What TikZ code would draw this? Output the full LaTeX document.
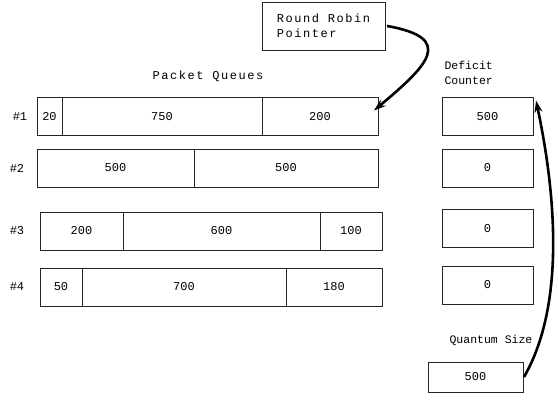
\documentclass[tikz,border=0pt]{standalone}
\usepackage{fontspec}
\setmonofont{Liberation Mono}
\usetikzlibrary{positioning,arrows.meta}

\begin{document}
\begin{tikzpicture}[x=1pt, y=1pt, >={Stealth[length=12pt,width=8pt]},
  font=\ttfamily\fontsize{12}{14}\selectfont,
  cell/.style={draw=black!85, line width=0.6pt, minimum height=38, inner sep=0pt, outer sep=0pt},
  tag/.style={font=\ttfamily\fontsize{11.5}{15}\selectfont},
  wide/.style={font=\ttfamily\fontsize{12}{15}\selectfont\addfontfeature{LetterSpace=13}},
  ptr/.style={->, line width=2.6pt}]
  \useasboundingbox (0,0) rectangle (558,407);
  % round robin pointer
  \node[cell, wide, minimum width=123, minimum height=48, align=left] (rr) at (323.5,381) {Round Robin\\Pointer};
  \node[wide] (plab) at (208,331) {Packet Queues};
  \node[tag, align=left, anchor=west] (dlab) at (441,334) {Deficit\\Counter};
  % queue 1
  \node (n1) at (20,290.5) {\#1};
  \node[cell, minimum width=25, anchor=west] (q1a) at (37,290.5) {20};
  \node[cell, minimum width=200, right=0pt of q1a] (q1b) {750};
  \node[cell, minimum width=116, right=0pt of q1b] (q1c) {200};
  % queue 2
  \node (n2) at (17,239) {\#2};
  \node[cell, minimum width=157, anchor=west] (q2a) at (37,239) {500};
  \node[cell, minimum width=184, right=0pt of q2a] (q2b) {500};
  % queue 3
  \node (n3) at (17,176) {\#3};
  \node[cell, minimum width=83, anchor=west] (q3a) at (40,176) {200};
  \node[cell, minimum width=197, right=0pt of q3a] (q3b) {600};
  \node[cell, minimum width=62, right=0pt of q3b] (q3c) {100};
  % queue 4
  \node (n4) at (17,120) {\#4};
  \node[cell, minimum width=42, anchor=west] (q4a) at (40,120) {50};
  \node[cell, minimum width=204, right=0pt of q4a] (q4b) {700};
  \node[cell, minimum width=96, right=0pt of q4b] (q4c) {180};
  % deficit counters
  \node[cell, minimum width=91] (d1) at (487.5,290.5) {500};
  \node[cell, minimum width=91] (d2) at (487.5,239) {0};
  \node[cell, minimum width=91] (d3) at (487.5,178.5) {0};
  \node[cell, minimum width=91] (d4) at (487.5,122) {0};
  % quantum
  \node[tag] (qlab) at (491,67) {Quantum Size};
  \node[cell, minimum width=95, minimum height=30] (qs) at (475.5,30) {500};
  % arrows
  \coordinate (p1) at ([shift={(-4,6)}]q1c.east);
  \coordinate (p2) at ([shift={(3,-3)}]d1.north east);
  \draw[ptr] ([xshift=2]rr.east) to[out=-10, in=40, looseness=2.1] (p1);
  \draw[ptr] ([xshift=1]qs.east) to[out=60, in=-78, looseness=0.8] (p2);
\end{tikzpicture}
\end{document}
